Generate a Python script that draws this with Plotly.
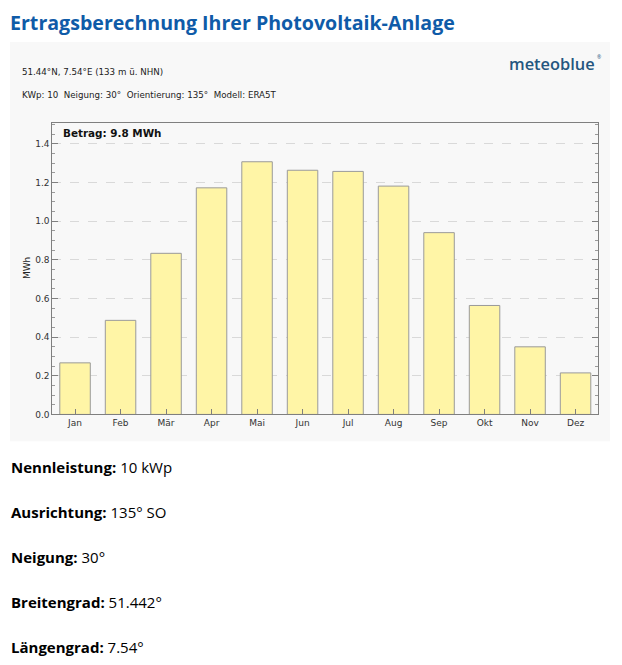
import plotly.graph_objects as go

months = ["Jan", "Feb", "Mär", "Apr", "Mai", "Jun", "Jul", "Aug", "Sep", "Okt", "Nov", "Dez"]
yield_mwh = [0.267, 0.487, 0.834, 1.173, 1.308, 1.264, 1.258, 1.182, 0.941, 0.564, 0.350, 0.215]
y_ticks = [0.0, 0.2, 0.4, 0.6, 0.8, 1.0, 1.2, 1.4]
info_labels = ["Nennleistung:", "Ausrichtung:", "Neigung:", "Breitengrad:", "Längengrad:"]
info_values = ["10 kWp", "135° SO", "30°", "51.442°", "7.54°"]

OFF = 8        # page body margin
VS = 0.992     # measured vertical scale of the photographed page
W, H = 622 - 2 * OFF, 665 - 2 * OFF
def px(x):
    return (x - OFF) / W
def py(y):
    return 1 - ((y - OFF) / VS) / H

fig = go.Figure()
fig.add_trace(go.Bar(
    x=months, y=yield_mwh, width=0.67,
    marker=dict(color="#FFF5A6", line=dict(color="#9a9a9a", width=1)),
    hoverinfo="x+y",
))

tickfont = dict(family="DejaVu Sans", size=9, color="#333333")
fig.update_layout(
    width=W, height=H,
    margin=dict(l=0, r=0, t=0, b=0),
    paper_bgcolor="white",
    plot_bgcolor="#FAFAFA",
    showlegend=False,
    xaxis=dict(
        domain=[px(52.3), px(598.3)],
        range=[-0.5, 11.5],
        showline=True, linecolor="#7f7f7f", linewidth=1, mirror=True,
        ticks="inside", ticklen=5, tickcolor="#7f7f7f",
        tickfont=tickfont, showgrid=False, fixedrange=True,
    ),
    yaxis=dict(
        domain=[py(414.3), py(122.7)],
        range=[0, 1.51],
        tickvals=y_ticks, ticktext=[f"{v:.1f}" for v in y_ticks],
        showline=True, linecolor="#7f7f7f", linewidth=1, mirror="allticks",
        ticks="inside", ticklen=6, tickcolor="#7f7f7f",
        minor=dict(dtick=0.05, tick0=0, ticks="inside", ticklen=3, tickcolor="#9a9a9a", showgrid=False),
        showgrid=True, gridcolor="#d9d9d9", griddash="dash", gridwidth=1,
        zeroline=False,
        tickfont=tickfont,
        fixedrange=True,
    ),
)

# grey chart container
fig.add_shape(type="rect", xref="paper", yref="paper",
              x0=px(10), x1=px(610), y0=py(441), y1=py(42),
              fillcolor="#F8F8F8", line=dict(width=0), layer="below")

# page title
fig.add_annotation(xref="paper", yref="paper", x=px(9), y=1, xanchor="left", yanchor="top",
                   text="<b>Ertragsberechnung Ihrer Photovoltaik-Anlage</b>", showarrow=False,
                   borderpad=0, font=dict(family="Open Sans", size=19.6, color="#0F5BA8"))

# chart header texts
fig.add_annotation(xref="paper", yref="paper", x=px(20), y=py(72), xanchor="left", yanchor="middle",
                   text="51.44°N, 7.54°E (133 m ü. NHN)", showarrow=False,
                   font=dict(family="DejaVu Sans", size=8.7, color="#222222"))
fig.add_annotation(xref="paper", yref="paper", x=px(20), y=py(95), xanchor="left", yanchor="middle",
                   text="KWp: 10&nbsp;&nbsp;Neigung: 30°&nbsp;&nbsp;Orientierung: 135°&nbsp;&nbsp;Modell: ERA5T",
                   showarrow=False, font=dict(family="DejaVu Sans", size=8.7, color="#222222"))
fig.add_annotation(xref="paper", yref="paper", x=px(597), y=py(63), xanchor="right", yanchor="middle",
                   text="meteoblue", showarrow=False,
                   font=dict(family="Open Sans", size=16.4, color="#24567F", weight=600))
fig.add_annotation(xref="paper", yref="paper", x=px(595), y=py(57), xanchor="left", yanchor="middle",
                   text="®", showarrow=False,
                   font=dict(family="Open Sans", size=5, color="#24567F"))

# y axis title
fig.add_annotation(xref="paper", yref="paper", x=px(27), y=py(268), xanchor="center", yanchor="middle",
                   text="MWh", textangle=-90, showarrow=False,
                   font=dict(family="DejaVu Sans", size=9, color="#222222"))

# total inside plot
fig.add_annotation(xref="paper", yref="paper", x=px(61), y=py(133), xanchor="left", yanchor="middle",
                   text="<b>Betrag: 9.8 MWh</b>", showarrow=False,
                   font=dict(family="DejaVu Sans", size=10.4, color="#111111"))

# info list below
for i, (lab, val) in enumerate(zip(info_labels, info_values)):
    fig.add_annotation(xref="paper", yref="paper", x=px(9), y=py(467 + 45 * i), xanchor="left", yanchor="middle",
                       text=f"<b>{lab}</b> {val}", showarrow=False,
                       font=dict(family="Open Sans", size=15, color="#000000"))

fig.write_html("out.html")
